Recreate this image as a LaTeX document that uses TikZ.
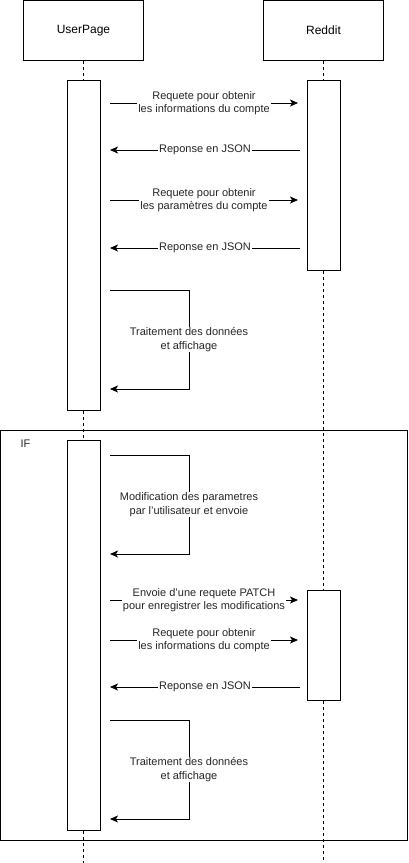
\documentclass[tikz,border=0pt]{standalone}
\usepackage{fontspec}
\setmainfont{Liberation Sans}
\usetikzlibrary{arrows.meta}
\begin{document}
\begin{tikzpicture}[x=1pt,y=-1pt,line width=1pt,
  head/.style={draw,fill=white,minimum width=120pt,minimum height=60pt,inner sep=0pt,font=\fontsize{12}{14}\selectfont},
  act/.style={draw,fill=white,minimum width=33pt,inner sep=0pt},
  life/.style={dash pattern=on 3pt off 3pt},
  msg/.style={-{Stealth[length=8pt,width=7pt,inset=2pt]}},
  lbl/.style={fill=white,align=center,inner sep=1pt,font=\fontsize{11}{13.5}\selectfont,text=black!85}]
\useasboundingbox (0,0) rectangle (408,863);
% frame
\node[draw,minimum width=407pt,minimum height=410pt,inner sep=0pt] (frame) at (204,635) {};
\node[anchor=west,inner sep=0pt,font=\fontsize{11}{13}\selectfont,text=black!85] (iflbl) at (20,444) {IF};
% heads
\node[head] (up) at (83.5,30.5) {UserPage};
\node[head] (rd) at (323.5,30.5) {Reddit};
% activations
\node[act,minimum height=330pt] (a1) at (83.5,245) {};
\node[act,minimum height=390pt] (a2) at (83.5,635) {};
\node[act,minimum height=190pt] (r1) at (323.5,175) {};
\node[act,minimum height=110pt] (r2) at (323.5,645) {};
\coordinate (uend) at (83.5,863);
\coordinate (rend) at (323.5,863);
% lifelines
\draw[life] (up.south) -- (a1.north);
\draw[life] (a1.south) -- (a2.north);
\draw[life] (a2.south) -- (uend);
\draw[life] (rd.south) -- (r1.north);
\draw[life] (r1.south) -- (r2.north);
\draw[life] (r2.south) -- (rend);
% messages
\coordinate (m1s) at (110,103); \coordinate (m1e) at (298,103);
\draw[msg] (m1s) -- node[lbl]{Requete pour obtenir\\les informations du compte} (m1e);
\coordinate (m2s) at (300,150); \coordinate (m2e) at (110,150);
\draw[msg] (m2s) -- node[lbl]{Reponse en JSON} (m2e);
\coordinate (m3s) at (110,200); \coordinate (m3e) at (298,200);
\draw[msg] (m3s) -- node[lbl]{Requete pour obtenir\\les paramètres du compte} (m3e);
\coordinate (m4s) at (300,248); \coordinate (m4e) at (110,248);
\draw[msg] (m4s) -- node[lbl]{Reponse en JSON} (m4e);
% self 1
\coordinate (s1a) at (110,290); \coordinate (s1b) at (189,290);
\coordinate (s1c) at (189,389); \coordinate (s1d) at (110,389);
\draw[msg] (s1a) -- (s1b) -- node[lbl]{Traitement des données\\et affichage} (s1c) -- (s1d);
% self 2
\coordinate (s2a) at (110,455); \coordinate (s2b) at (189,455);
\coordinate (s2c) at (189,554); \coordinate (s2d) at (110,554);
\draw[msg] (s2a) -- (s2b) -- node[lbl]{Modification des parametres\\par l'utilisateur et envoie} (s2c) -- (s2d);
% patch
\coordinate (m5s) at (110,600); \coordinate (m5e) at (298,600);
\draw[msg] (m5s) -- node[lbl]{Envoie d'une requete PATCH\\pour enregistrer les modifications} (m5e);
\coordinate (m6s) at (110,640); \coordinate (m6e) at (298,640);
\draw[msg] (m6s) -- node[lbl]{Requete pour obtenir\\les informations du compte} (m6e);
\coordinate (m7s) at (300,687); \coordinate (m7e) at (110,687);
\draw[msg] (m7s) -- node[lbl]{Reponse en JSON} (m7e);
% self 3
\coordinate (s3a) at (110,720); \coordinate (s3b) at (189,720);
\coordinate (s3c) at (189,819); \coordinate (s3d) at (110,819);
\draw[msg] (s3a) -- (s3b) -- node[lbl]{Traitement des données\\et affichage} (s3c) -- (s3d);
\end{tikzpicture}
\end{document}
